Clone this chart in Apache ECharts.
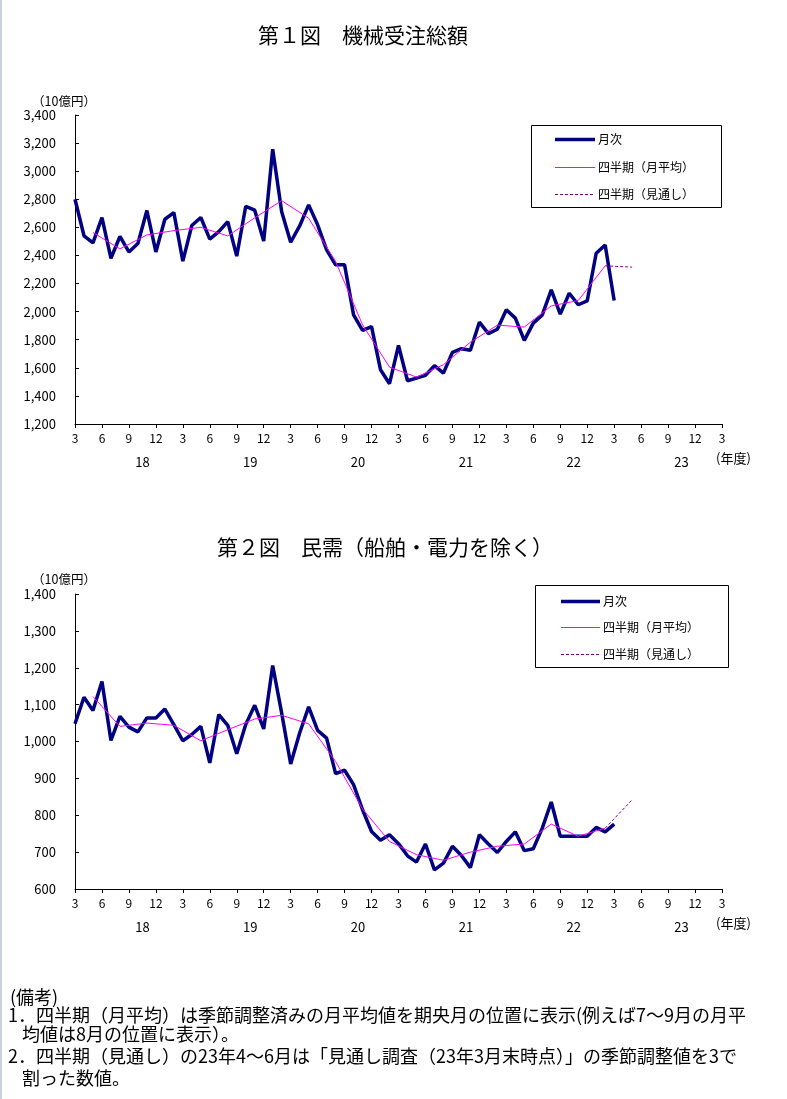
<!DOCTYPE html>
<html>
<head>
<meta charset="utf-8">
<script src="https://cdn.jsdelivr.net/npm/echarts@6/dist/echarts.min.js"></script>
<style>
html,body{margin:0;padding:0;background:#fff;}
#c{width:787px;height:1099px;}
</style>
</head>
<body>
<div id="c"></div>
<script>
// ---- Data ----
const tickLabels = ['3','6','9','12','3','6','9','12','3','6','9','12','3','6','9','12','3','6','9','12','3','6','9','12','3'];
const fiscalYears = ['18','19','20','21','22','23'];
const titles = ['第１図　機械受注総額', '第２図　民需（船舶・電力を除く）'];
const legendNames = ['月次', '四半期（月平均）', '四半期（見通し）'];
const unitLabel = '（10億円）';
const yearUnitLabel = '(年度)';

// 第1図 機械受注総額: monthly from Mar 2018 to Mar 2023
const totalMonthly = [2800,2540,2490,2670,2380,2535,2425,2485,2720,2425,2658,2705,
  2360,2613,2670,2516,2570,2641,2395,2750,2722,2502,3157,2712,
  2494,2610,2760,2618,2440,2333,2333,1977,1866,1894,1586,1487,
  1759,1508,1527,1546,1615,1562,1710,1736,1725,1925,1843,1875,
  2013,1954,1795,1918,1977,2155,1982,2131,2049,2077,2416,2475,
  2079];
// quarterly averages (mid-month of each quarter, from Apr-Jun 2018)
const totalQuarterly = [2563,2447,2546,2577,2600,2539,2668,2790,2665,2357,1906,1605,1534,1622,1782,1904,1890,2041,2079,2326];
// outlook: last quarter (Jan-Mar 2023) -> Apr-Jun 2023
const totalOutlook = [2326,2317];

// 第2図 民需（船舶・電力を除く）
const privateMonthly = [1048,1120,1084,1163,1003,1068,1039,1026,1064,1064,1088,1046,
  1002,1019,1041,942,1073,1044,967,1046,1098,1034,1206,1077,
  939,1023,1094,1030,1009,913,922,883,815,756,732,747,
  723,690,673,722,652,670,716,691,658,747,722,699,
  729,755,704,709,765,836,743,743,743,743,767,755,
  776];
const privateQuarterly = [1122,1041,1050,1044,1002,1032,1061,1071,1048,946,817,729,693,678,700,716,722,776,743,765];
const privateOutlook = [765,842];

const notes = [
  '(備考)',
  '1．四半期（月平均）は季節調整済みの月平均値を期央月の位置に表示(例えば7～9月の月平',
  '均値は8月の位置に表示）。',
  '2．四半期（見通し）の23年4～6月は「見通し調査（23年3月末時点）」の季節調整値を3で',
  '割った数値。'
];

// ---- Layout ----
const FONT = '"Noto Sans CJK JP", "Noto Sans", sans-serif';
const panels = [
  {monthly: totalMonthly, quarterly: totalQuarterly, outlook: totalOutlook,
   min: 1200, max: 3400, step: 200, top: 115, height: 309,
   title: titles[0], titleX: 258, titleY: 35,
   unitY: 101, yearY: 462, yearUnitY: 458,
   box: [531.5, 125.5, 190, 82], lineX: [555, 595], textX: 598, rows: [139, 167, 194]},
  {monthly: privateMonthly, quarterly: privateQuarterly, outlook: privateOutlook,
   min: 600, max: 1400, step: 100, top: 594, height: 295,
   title: titles[1], titleX: 217, titleY: 547,
   unitY: 579, yearY: 927, yearUnitY: 923,
   box: [535.5, 585.5, 193, 82], lineX: [561, 600], textX: 603, rows: [601, 627, 654]}
];
const C_MONTH = '#000080', C_Q = '#FF00FF', C_OUT = '#800080';

const chart = echarts.init(document.getElementById('c'), null, {renderer: 'canvas'});

const series = [];
panels.forEach((p, i) => {
  series.push({
    name: legendNames[0], type: 'line', xAxisIndex: i, yAxisIndex: i,
    data: p.monthly.map((v, k) => [k, v]),
    symbol: 'none', lineStyle: {color: C_MONTH, width: 3.5}, z: 3, silent: true
  });
  series.push({
    name: legendNames[1], type: 'line', xAxisIndex: i, yAxisIndex: i,
    data: p.quarterly.map((v, k) => [2 + 3 * k, v]),
    symbol: 'none', lineStyle: {color: C_Q, width: 1}, z: 4, silent: true
  });
  const lastQ = 2 + 3 * (p.quarterly.length - 1);
  series.push({
    name: legendNames[2], type: 'line', xAxisIndex: i, yAxisIndex: i,
    data: p.outlook.map((v, k) => [lastQ + 3 * k, v]),
    symbol: 'none', lineStyle: {color: C_OUT, width: 1, type: [3, 2]}, z: 4, silent: true
  });
});

const option = {
  animation: false,
  backgroundColor: '#fff',
  textStyle: {fontFamily: FONT},
  grid: panels.map(p => ({left: 75, width: 647, top: p.top, height: p.height})),
  xAxis: panels.map((p, i) => ({
    type: 'value', gridIndex: i, min: 0, max: 72, interval: 3,
    axisLine: {show: true, onZero: false, lineStyle: {color: '#000', width: 1}},
    axisTick: {show: true, inside: false, length: 4, lineStyle: {color: '#000'}},
    axisLabel: {margin: 8, color: '#000', fontSize: 12, fontFamily: FONT,
      formatter: v => tickLabels[Math.round(v / 3)]},
    splitLine: {show: false}
  })),
  yAxis: panels.map((p, i) => ({
    type: 'value', gridIndex: i, min: p.min, max: p.max, interval: p.step,
    axisLine: {show: true, lineStyle: {color: '#000', width: 1}},
    axisTick: {show: true, inside: true, length: 4, lineStyle: {color: '#000'}},
    axisLabel: {margin: 19, color: '#000', fontSize: 13, fontFamily: FONT,
      formatter: v => v.toLocaleString('en-US')},
    splitLine: {show: false}
  })),
  series: series
};
chart.setOption(option);

// ---- Graphic texts / legends ----
const g = [];
g.push({type: 'rect', shape: {x: 0, y: 0, width: 2, height: 1099}, style: {fill: '#c8d2dc'}, silent: true});
panels.forEach((p, i) => {
  g.push({type: 'text', style: {text: p.title, x: p.titleX, y: p.titleY, fill: '#000',
    font: '21px ' + FONT, align: 'left', verticalAlign: 'middle'}});
  g.push({type: 'text', style: {text: unitLabel, x: 32, y: p.unitY, fill: '#000',
    font: '12.5px ' + FONT, align: 'left', verticalAlign: 'middle'}});
  fiscalYears.forEach((fy, k) => {
    const px = chart.convertToPixel({xAxisIndex: i}, 7.5 + 12 * k);
    g.push({type: 'text', style: {text: fy, x: px, y: p.yearY, fill: '#000',
      font: '13px ' + FONT, align: 'center', verticalAlign: 'middle'}});
  });
  g.push({type: 'text', style: {text: yearUnitLabel, x: 716, y: p.yearUnitY, fill: '#000',
    font: '13px ' + FONT, align: 'left', verticalAlign: 'middle'}});
  // legend
  g.push({type: 'rect', shape: {x: p.box[0], y: p.box[1], width: p.box[2], height: p.box[3]},
    style: {fill: '#fff', stroke: '#000', lineWidth: 1}, z: 10});
  const styles = [
    {stroke: C_MONTH, lineWidth: 3.5},
    {stroke: C_Q, lineWidth: 1},
    {stroke: C_OUT, lineWidth: 1, lineDash: [3, 2]}
  ];
  legendNames.forEach((nm, k) => {
    g.push({type: 'line', shape: {x1: p.lineX[0], y1: p.rows[k] + 0.5, x2: p.lineX[1], y2: p.rows[k] + 0.5},
      style: styles[k], z: 11});
    g.push({type: 'text', style: {text: nm, x: p.textX, y: p.rows[k], fill: '#000',
      font: '12px ' + FONT, align: 'left', verticalAlign: 'middle'}, z: 11});
  });
});
const noteX = [10, 8, 22, 8, 22];
const noteY = [997, 1015, 1034, 1056, 1078];
notes.forEach((t, k) => {
  g.push({type: 'text', style: {text: t, x: noteX[k], y: noteY[k], fill: '#000',
    font: '18px ' + FONT, align: 'left', verticalAlign: 'middle'}});
});
chart.setOption({graphic: g});
</script>
</body>
</html>
